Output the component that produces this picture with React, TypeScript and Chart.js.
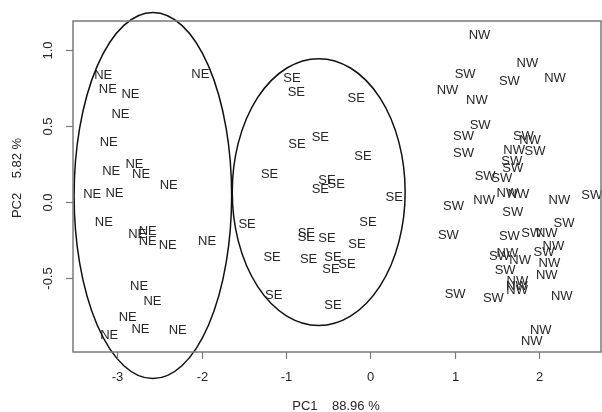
import React, { useEffect, useRef } from "react";
import { Chart, registerables } from "chart.js";

Chart.register(...registerables);

// ---- data (PC1, PC2 scores) ----
const NE_X = [-3.166, -2.014, -3.111, -2.843, -2.961, -3.100, -2.795, -2.716, -3.071, -2.389, -3.296, -3.032, -3.159, -2.763, -2.638, -2.638, -2.401, -1.934, -2.740, -2.582, -2.875, -2.724, -3.095, -2.282];
const NE_Y = [0.839, 0.843, 0.745, 0.712, 0.584, 0.400, 0.255, 0.189, 0.207, 0.115, 0.058, 0.064, -0.130, -0.209, -0.192, -0.258, -0.280, -0.258, -0.551, -0.648, -0.758, -0.837, -0.872, -0.841];

const SE_X = [-0.927, -0.876, -0.166, -0.868, -0.592, -0.086, -1.193, -0.513, -0.403, -0.592, 0.284, -1.460, -0.027, -0.758, -0.758, -0.513, -0.158, -1.164, -0.731, -0.442, -0.276, -0.465, -1.145, -0.442];
const SE_Y = [0.821, 0.725, 0.686, 0.383, 0.431, 0.306, 0.189, 0.146, 0.120, 0.087, 0.036, -0.143, -0.128, -0.205, -0.227, -0.232, -0.275, -0.359, -0.374, -0.363, -0.407, -0.439, -0.609, -0.674];

const NW_X = [1.295, 1.863, 2.191, 0.916, 1.264, 1.895, 1.706, 1.626, 1.756, 1.350, 2.242, 2.093, 1.626, 1.777, 2.171, 2.124, 2.093, 1.745, 1.738, 1.741, 2.271, 2.022, 1.915];
const NW_Y = [1.102, 0.916, 0.817, 0.742, 0.674, 0.409, 0.343, 0.064, 0.054, 0.014, 0.014, -0.199, -0.337, -0.380, -0.286, -0.400, -0.479, -0.516, -0.549, -0.576, -0.615, -0.841, -0.911];

const SW_X = [1.125, 1.650, 1.303, 1.105, 1.816, 1.105, 1.954, 1.678, 1.690, 1.362, 1.560, 2.626, 0.987, 1.690, 0.927, 1.650, 1.915, 2.298, 1.531, 2.061, 1.599, 1.007, 1.460];
const SW_Y = [0.843, 0.799, 0.510, 0.438, 0.438, 0.328, 0.339, 0.273, 0.229, 0.174, 0.163, 0.049, -0.023, -0.067, -0.214, -0.220, -0.205, -0.135, -0.352, -0.330, -0.446, -0.604, -0.630];

const GROUPS = ["NE", "SE", "NW", "SW"];

// ellipses: centre (PC1, PC2) and radii (PC1, PC2)
const ELLIPSE_CX = [-2.577, -0.611];
const ELLIPSE_CY = [0.041, 0.064];
const ELLIPSE_RX = [0.934, 1.025];
const ELLIPSE_RY = [1.206, 0.879];

const X_TICKS = [-3, -2, -1, 0, 1, 2];
const X_TICK_LABELS = ["-3", "-2", "-1", "0", "1", "2"];
const Y_TICKS = [-0.5, 0, 0.5, 1.0];
const Y_TICK_LABELS = ["-0.5", "0.0", "0.5", "1.0"];

const X_TITLE = "PC1    88.96 %";
const Y_TITLE = "PC2    5.82 %";

const X_MIN = -3.524;
const X_MAX = 2.736;
const Y_MIN = -0.99;
const Y_MAX = 1.191;

const FONT = '13px "Liberation Sans", Arial, sans-serif';
const TEXT_COLOR = "#262626";

function pts(xs: number[], ys: number[]) {
  return xs.map((x, i) => ({ x, y: ys[i] }));
}

const decorPlugin = {
  id: "decor",
  afterDatasetsDraw(chart: any) {
    const ctx = chart.ctx as CanvasRenderingContext2D;
    const xs = chart.scales.x;
    const ys = chart.scales.y;
    const area = chart.chartArea;
    ctx.save();
    // text labels at each point
    ctx.font = FONT;
    ctx.fillStyle = TEXT_COLOR;
    ctx.textAlign = "center";
    ctx.textBaseline = "middle";
    chart.data.datasets.forEach((ds: any, di: number) => {
      const meta = chart.getDatasetMeta(di);
      meta.data.forEach((el: any) => {
        ctx.fillText(ds.label, el.x, el.y + 1);
      });
    });
    // ellipses
    ctx.strokeStyle = "#111";
    ctx.lineWidth = 1.5;
    for (let i = 0; i < ELLIPSE_CX.length; i++) {
      const cx = xs.getPixelForValue(ELLIPSE_CX[i]);
      const cy = ys.getPixelForValue(ELLIPSE_CY[i]);
      const rx = Math.abs(xs.getPixelForValue(ELLIPSE_CX[i] + ELLIPSE_RX[i]) - cx);
      const ry = Math.abs(ys.getPixelForValue(ELLIPSE_CY[i] + ELLIPSE_RY[i]) - cy);
      ctx.beginPath();
      ctx.ellipse(cx, cy, rx, ry, 0, 0, Math.PI * 2);
      ctx.stroke();
    }
    // box
    ctx.strokeStyle = "#7a7a7a";
    ctx.lineWidth = 1.5;
    ctx.strokeRect(area.left, area.top, area.right - area.left, area.bottom - area.top);
    // x ticks
    ctx.lineWidth = 1.2;
    ctx.fillStyle = TEXT_COLOR;
    X_TICKS.forEach((v, i) => {
      const px = Math.round(xs.getPixelForValue(v)) + 0.5;
      ctx.beginPath();
      ctx.moveTo(px, area.bottom);
      ctx.lineTo(px, area.bottom + 7);
      ctx.stroke();
      ctx.textAlign = "center";
      ctx.textBaseline = "middle";
      ctx.fillText(X_TICK_LABELS[i], px, 377);
    });
    // y ticks
    Y_TICKS.forEach((v, i) => {
      const py = Math.round(ys.getPixelForValue(v)) + 0.5;
      ctx.beginPath();
      ctx.moveTo(area.left, py);
      ctx.lineTo(area.left - 7, py);
      ctx.stroke();
      ctx.save();
      ctx.translate(48, py);
      ctx.rotate(-Math.PI / 2);
      ctx.textAlign = "center";
      ctx.textBaseline = "middle";
      ctx.fillText(Y_TICK_LABELS[i], 0, 0);
      ctx.restore();
    });
    // titles
    ctx.textAlign = "center";
    ctx.textBaseline = "middle";
    ctx.fillText(X_TITLE, 336, 406);
    ctx.save();
    ctx.translate(17, 178);
    ctx.rotate(-Math.PI / 2);
    ctx.fillText(Y_TITLE, 0, 0);
    ctx.restore();
    ctx.restore();
  },
};

export default function App() {
  const ref = useRef<HTMLCanvasElement | null>(null);
  useEffect(() => {
    document.body.style.margin = "0";
    const canvas = ref.current;
    if (!canvas) return;
    const chart = new Chart(canvas, {
      type: "scatter",
      data: {
        datasets: [
          { label: GROUPS[0], data: pts(NE_X, NE_Y), pointRadius: 0 },
          { label: GROUPS[1], data: pts(SE_X, SE_Y), pointRadius: 0 },
          { label: GROUPS[2], data: pts(NW_X, NW_Y), pointRadius: 0 },
          { label: GROUPS[3], data: pts(SW_X, SW_Y), pointRadius: 0 },
        ],
      },
      options: {
        responsive: false,
        animation: false,
        devicePixelRatio: 1,
        layout: { padding: { left: 73, top: 21, right: 1, bottom: 60 } },
        plugins: { legend: { display: false }, tooltip: { enabled: false } },
        scales: {
          x: { type: "linear", min: X_MIN, max: X_MAX, display: false },
          y: { type: "linear", min: Y_MIN, max: Y_MAX, display: false },
        },
      },
      plugins: [decorPlugin],
    });
    return () => chart.destroy();
  }, []);
  return (
    <div style={{ width: 602, height: 412, background: "#fff" }}>
      <canvas ref={ref} width={602} height={412} style={{ display: "block" }} />
    </div>
  );
}
